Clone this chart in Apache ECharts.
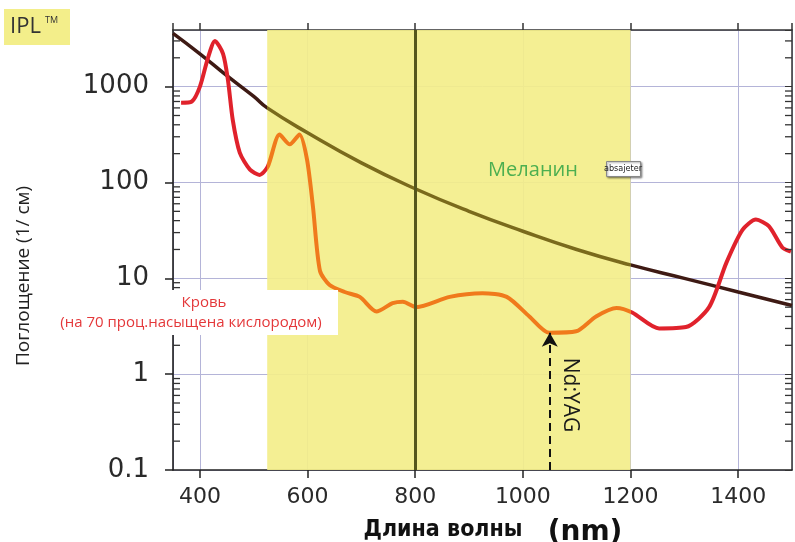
<!DOCTYPE html>
<html>
<head>
<meta charset="utf-8">
<script src="https://cdn.jsdelivr.net/npm/echarts@6/dist/echarts.min.js"></script>
<style>
html,body{margin:0;padding:0;background:#fff}
#chart{width:795px;height:542px}
</style>
</head>
<body>
<div id="chart"></div>
<script>
// wavelength (nm) -> absorption (1/cm)
const melaninNm  = [350, 400, 450, 500, 525, 600, 700, 800, 900, 1000, 1100, 1200, 1300, 1400, 1500];
const melaninAbs = [3600, 2200, 1300, 790, 600, 330, 160, 86, 50, 31, 20, 13.8, 10, 7.2, 5.2];

const bloodNm  = [365, 385, 400, 415, 428, 443, 452, 461, 474, 493, 511, 526, 548, 567, 585, 599, 610, 623, 641, 669, 697, 728, 758, 777, 802, 864, 925, 970, 1012, 1049, 1099, 1136, 1174, 1203, 1253, 1303, 1346, 1378, 1408, 1433, 1457, 1482, 1498];
const bloodAbs = [680, 700, 1000, 2000, 3000, 2200, 1180, 450, 205, 136, 120, 146, 316, 250, 316, 173, 56, 12, 8.5, 7.2, 6.4, 4.5, 5.5, 5.7, 5.0, 6.4, 7.0, 6.4, 4.0, 2.7, 2.8, 4.0, 4.9, 4.4, 3.0, 3.1, 5.0, 14.5, 32, 41, 35, 21, 19];

const yLabels = [0.1, 1, 10, 100, 1000];
const minorTicks = [0.2, 0.3, 0.4, 0.5, 0.6, 0.7, 0.8, 0.9, 2, 3, 4, 5, 6, 7, 8, 9,
  20, 30, 40, 50, 60, 70, 80, 90, 200, 300, 400, 500, 600, 700, 800, 900, 2000, 3000];

const xMin = 350, xMax = 1500;
const yMin = 0.1, yMax = 3900;
const iplBand = [525, 1200];
const markerNm = 800;
const ndYag = [1050, 2.7];

const outsideColors = { blood: '#e0222c', melanin: '#3e1a14' };
const insideColors = { blood: '#f07a1c', melanin: '#7a6a1c' };

const chart = echarts.init(document.getElementById('chart'));

const axisFont = 'DejaVu Sans';

const labels = [
  { type: 'rect', left: 4, top: 9, shape: { width: 66, height: 36 }, style: { fill: '#f3ee8a' } },
  { type: 'text', left: 10, top: 16, style: { text: 'IPL', font: '22px "Open Sans"', fill: '#333' } },
  { type: 'text', left: 45, top: 16, style: { text: 'TM', font: '9px "Open Sans"', fill: '#333' } },

  { type: 'rect', left: 55, top: 290, shape: { width: 283, height: 45 }, style: { fill: '#fff' }, z: 10 },
  { type: 'text', x: 204, y: 303, z: 11, style: { text: 'Кровь', font: '15px "Open Sans"', fill: '#e4383a', align: 'center', verticalAlign: 'middle' } },
  { type: 'text', x: 191, y: 323, z: 11, style: { text: '(на 70 проц.насыщена кислородом)', font: '15px "Open Sans"', fill: '#e4383a', align: 'center', verticalAlign: 'middle' } },

  { type: 'text', x: 533, y: 170, z: 11, style: { text: 'Меланин', font: '20px "Open Sans"', fill: '#4caf50', align: 'center', verticalAlign: 'middle' } },
  { type: 'rect', left: 606, top: 161, z: 11, shape: { width: 34, height: 15 }, style: { fill: '#fff', stroke: '#888', lineWidth: 1, shadowBlur: 2, shadowColor: 'rgba(0,0,0,0.4)', shadowOffsetX: 1, shadowOffsetY: 1 } },
  { type: 'text', x: 623, y: 168.5, z: 12, style: { text: 'absajeter', font: '9px "DejaVu Sans Condensed"', fill: '#222', align: 'center', verticalAlign: 'middle' } },

  { type: 'text', x: 570, y: 395, rotation: -Math.PI / 2, z: 11, style: { text: 'Nd:YAG', font: '21px "Open Sans"', fill: '#1a1a1a', align: 'center', verticalAlign: 'middle' } },

  { type: 'text', x: 24, y: 276, rotation: Math.PI / 2, z: 11, style: { text: 'Поглощение (1/ см)', font: '19px "Open Sans"', fill: '#222', align: 'center', verticalAlign: 'middle' } },
  { type: 'text', x: 443, y: 530, z: 11, style: { text: 'Длина волны', font: 'bold 23px "DejaVu Sans Condensed"', fill: '#111', align: 'center', verticalAlign: 'middle' } },
  { type: 'text', x: 585, y: 533, z: 11, style: { text: '(nm)', font: 'bold 28px "DejaVu Sans"', fill: '#111', align: 'center', verticalAlign: 'middle' } }
];

chart.setOption({
  animation: false,
  backgroundColor: '#fff',
  grid: { left: 173, right: 3, top: 30, bottom: 72, outerBoundsMode: 'none', containLabel: false },
  xAxis: [
    {
      type: 'value', min: xMin, max: xMax, splitNumber: 5,
      axisLine: { lineStyle: { color: '#222', width: 1.5 } },
      axisTick: { show: true, length: 8, lineStyle: { color: '#222', width: 1.5 } },
      axisLabel: { showMinLabel: false, showMaxLabel: false, fontFamily: axisFont, fontSize: 22, color: '#2a2a2a', margin: 16,
        formatter: v => String(v) },
      splitLine: { show: true, lineStyle: { color: '#b4b4d8', width: 1 } }
    },
    {
      type: 'value', position: 'top', min: xMin, max: xMax, splitNumber: 5,
      axisLine: { lineStyle: { color: '#333', width: 1.5 } },
      axisTick: { show: true, length: 7, lineStyle: { color: '#333', width: 1.5 } },
      axisLabel: { show: false },
      splitLine: { show: false }
    }
  ],
  yAxis: [
    {
      type: 'log', logBase: 10, min: yMin, max: yMax,
      axisLine: { show: true, lineStyle: { color: '#111', width: 1.5 } },
      axisTick: { show: true, length: 8, lineStyle: { color: '#222', width: 1.5 } },
      axisLabel: {
        showMaxLabel: false, fontFamily: axisFont, fontSize: 26, color: '#2a2a2a', margin: 24,
        formatter: v => yLabels.some(t => Math.abs(t - v) < 1e-9 * Math.max(1, t)) ? String(+v.toPrecision(3)) : ''
      },
      splitLine: { show: true, lineStyle: { color: '#b4b4d8', width: 1 } }
    },
    {
      type: 'log', logBase: 10, min: yMin, max: yMax, position: 'right',
      axisLine: { show: true, lineStyle: { color: '#333', width: 1.5 } },
      axisTick: { show: true, inside: true, length: 7, lineStyle: { color: '#333' } },
      axisLabel: { show: false },
      splitLine: { show: false }
    }
  ],
  visualMap: [
    {
      type: 'piecewise', show: false, dimension: 0, seriesIndex: 1,
      pieces: [
        { lt: iplBand[0], color: outsideColors.melanin },
        { gte: iplBand[0], lte: iplBand[1], color: insideColors.melanin },
        { gt: iplBand[1], color: outsideColors.melanin }
      ]
    },
    {
      type: 'piecewise', show: false, dimension: 0, seriesIndex: 2,
      pieces: [
        { lt: iplBand[0], color: outsideColors.blood },
        { gte: iplBand[0], lte: iplBand[1], color: insideColors.blood },
        { gt: iplBand[1], color: outsideColors.blood }
      ]
    }
  ],
  series: [
    {
      // IPL band and 800 nm line
      type: 'line', data: [], silent: true,
      markArea: {
        silent: true,
        itemStyle: { color: '#f3ee8a', opacity: 0.92 },
        data: [[{ xAxis: iplBand[0] }, { xAxis: iplBand[1] }]]
      },
      markLine: {
        silent: true, symbol: ['none', 'none'], label: { show: false },
        lineStyle: { color: '#55561c', width: 3, type: 'solid' },
        data: [{ xAxis: markerNm }]
      }
    },
    {
      name: 'Меланин', type: 'line', smooth: 0.5, showSymbol: false,
      data: melaninNm.map((x, i) => [x, melaninAbs[i]]),
      lineStyle: { width: 3.5 }
    },
    {
      name: 'Кровь', type: 'line', smooth: 0.25, showSymbol: false,
      data: bloodNm.map((x, i) => [x, bloodAbs[i]]),
      lineStyle: { width: 4 },
      markLine: {
        silent: true, symbol: ['none', 'arrow'], symbolSize: [12, 14], label: { show: false },
        lineStyle: { color: '#111', width: 2, type: [8, 5] },
        data: [[{ coord: [ndYag[0], yMin] }, { coord: [ndYag[0], ndYag[1]] }]]
      }
    }
  ],
  graphic: labels
});

// minor log ticks on both vertical axes, placed through the axis scale
const ticks = [];
for (const v of minorTicks) {
  const l = chart.convertToPixel({ xAxisIndex: 0, yAxisIndex: 0 }, [xMin, v]);
  const r = chart.convertToPixel({ xAxisIndex: 0, yAxisIndex: 0 }, [xMax, v]);
  ticks.push({ type: 'line', z: 9, shape: { x1: l[0], y1: l[1], x2: l[0] + 7, y2: l[1] }, style: { stroke: '#333', lineWidth: 1.3 } });
  ticks.push({ type: 'line', z: 9, shape: { x1: r[0], y1: r[1], x2: r[0] - 7, y2: r[1] }, style: { stroke: '#333', lineWidth: 1.3 } });
}
chart.setOption({ graphic: labels.concat(ticks) });
</script>
</body>
</html>
